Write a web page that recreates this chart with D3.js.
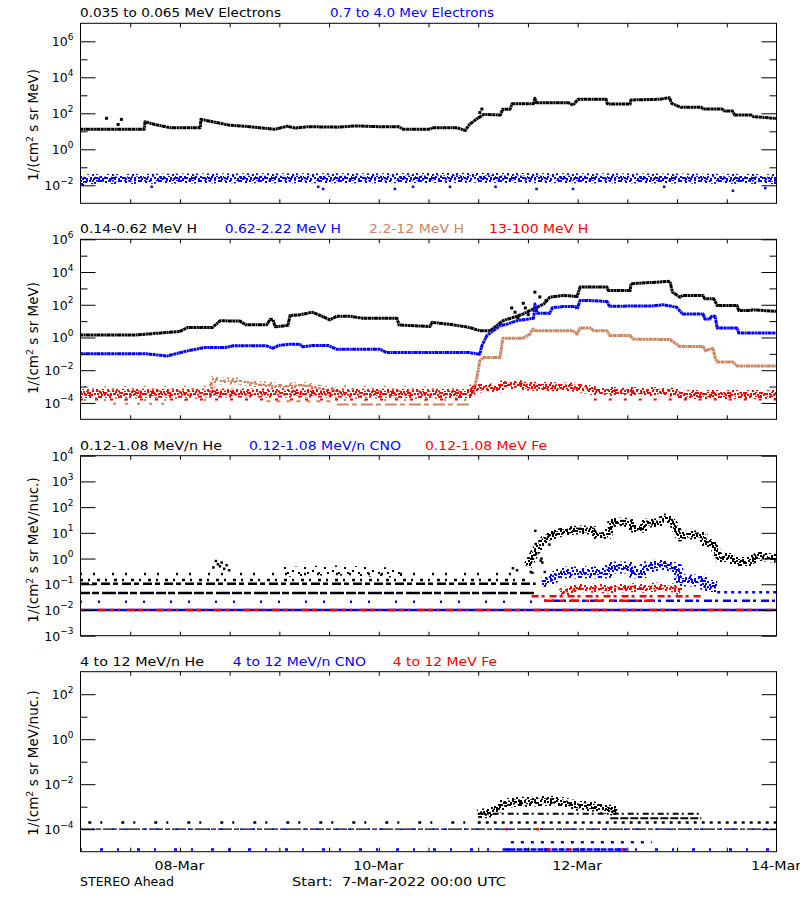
<!DOCTYPE html>
<html><head><meta charset="utf-8">
<script src="https://cdn.jsdelivr.net/npm/d3@7"></script>
<style>body{margin:0;background:#fff}svg{display:block}text{font-family:"DejaVu Sans",sans-serif}</style>
</head><body><svg id="c" width="800" height="900"></svg>
<script>
// ===== DATA (time in hours after 7-Mar-2022 00:00 UTC, values in flux units) =====
// Panel 1 : electrons
const e1T = [0,15.5,15.7,18,21.7,29,29.2,32,36,41,47,50,52,55,62,67,72,77,78,84.5,85,91,93,94,96,97.5,101.5,102,103.8,104.3,109.5,109.8,110.2,118,119,120.2,127,127.3,132.8,133,140,142.3,142.8,145,150,150.4,155,155.5,157.5,158,162,162.5,168];
const e1V = [13,13,34,24,16,16,46,34,22,18,13,19,15,18,17,20,18,18,13,13,16,16,11,24,53,87,80,166,166,340,340,680,390,380,280,600,600,330,330,550,600,740,360,215,215,172,172,134,134,80,80,65,52];
const e1oT = [6.4,10,9.2,97,96.5];
const e1oV = [53,46,24,172,110];
const e2T = [0,1,24,48,72,96,120,144,168];
const e2V = [0.012,0.022,0.024,0.025,0.025,0.026,0.025,0.024,0.022];
const e2oT = [17.3,57.5,58.7,76,80.4,89.3,100.3,110.2,119,141,157.6,165.4];
const e2oV = [0.0083,0.0083,0.0063,0.0063,0.0083,0.0083,0.0083,0.0063,0.0063,0.0083,0.005,0.007];
// Panel 2 : protons
const h1T = [0,12.8,24,26,32,33.8,38.6,40,45.1,45.9,46.6,47.1,50.2,50.7,53,56,58,60.3,62,65,68.3,76.5,77,84.5,85,90,94,96.5,99,102.1,105.5,106.9,108.6,110.3,112,113.4,116.6,120,120.7,127.2,127.5,132.8,133,142.4,143,144.8,145.5,150.4,150.8,153,153.8,158.6,159,161.7,162.4,168];
const h1V = [1.4,1.4,2.3,4.1,4.1,10.5,10,6,6,13,12,4.5,5.5,22,24,35,22,12,20,20,15,15,5.8,4.7,8.4,6,4.1,2.6,2.6,10.6,20,27,44,70,114,290,370,320,1200,1200,745,745,1950,2700,590,290,370,370,230,230,89,89,44,44,49,40];
const h1oT = [104.2,105,107,107.5,109.8,108.2,105.7,111,112.5];
const h1oV = [64,35,124,64,590,25,16,300,180];
const h2T = [0,16,21,25.8,30,35,37,45,46.6,48,50.7,53,53.8,56,60,62,72.4,74,94,96.5,97,98.2,99.7,101.4,103.1,105.5,109.5,109.8,110.4,113.4,114,116.6,119.5,120,120.7,123,127.2,127.8,138,140.7,142.4,144,145.5,150.4,150.8,152,152.5,153.3,153.8,158.6,159,168];
const h2V = [0.1,0.1,0.074,0.15,0.24,0.24,0.31,0.31,0.22,0.33,0.39,0.39,0.27,0.32,0.32,0.19,0.19,0.12,0.12,0.095,0.31,1.3,2.6,5.2,6.6,10.7,15,110,30,30,65,78,78,56,180,180,158,81,85,100,85,70,27,27,13.5,13.5,20,20,3.8,3.8,1.9,1.9];
const h3bgT = [0,31.5,null,60,94.5];
const h3bgV = [3.5e-4,3.8e-4,null,4e-4,3.2e-4];
const h3rowAT = [8,21]; const h3rowAV = [9e-5,9e-5];
const h3rowBT = [45,62]; const h3rowBV = [1.25e-4,1.25e-4];
const h3rowCT = [62,94.5]; const h3rowCV = [8e-5,8e-5];
const h3aT = [31.4,32.1,34,38.6,43.4,49,53.1,55,60,62];
const h3aV = [4e-4,2.8e-3,2.2e-3,2.2e-3,1.35e-3,9.7e-4,1.2e-3,1.1e-3,6e-4,5.2e-4];
const h3T = [94.9,95.8,96.5,97.3,101.4,101.9,102.1,106.9,108.6,109.3,110,119,120,120.7,123.1,124,127.2,127.9,132.8,133.5,142.4,144.8,150.4,151,152,152.8,153.3,153.8,157.6,158.6,168];
const h3V = [4e-4,3.5e-3,0.037,0.059,0.059,0.49,0.91,0.91,1.6,3.3,2.6,2.6,1.6,3.8,3.8,2.6,2.6,1.3,1.3,0.8,0.75,0.28,0.28,0.15,0.2,0.21,0.059,0.032,0.032,0.018,0.018];
const h4T = [0,30,60,94.3,94.9,101.4,102.1,106.2,107,120,124.8,142.4,145,168];
const h4V = [3.8e-4,4e-4,4e-4,3.8e-4,8.3e-4,8.3e-4,1.35e-3,1.35e-3,1.07e-3,9e-4,5.2e-4,4.8e-4,3.3e-4,3.3e-4];
const h4rowT = [0,94,null,124,168];
const h4rowV = [1.6e-4,1.6e-4,null,1.6e-4,1.6e-4];
// Panel 3 : 0.12-1.08 MeV/n heavy ions
const heL1T = [0,110]; const heL1V = [0.046,0.046];
const heL2T = [0,110]; const heL2V = [0.104,0.104];
const heL3T = [0,108]; const heL3V = [0.148,0.148];
const heL4T = [0,108]; const heL4V = [0.25,0.25];
const heBumpT = [49,54,60,66,72,78]; const heBumpV = [0.3,0.32,0.35,0.33,0.3,0.28];
const heT = [108,110,112.7,116.6,120,123.8,124.5,127.4,128.4,132.8,133.5,135.9,136.4,140,141,142.4,143.5,144.8,146.5,150.4,151,153,154,156.9,158,162.4,163,168];
const heV = [0.5,2,7,11,13,13,8.2,8.2,26,26,15,15,24,24,38,30,20,7,8.2,8.2,3.8,3.8,1.1,1.1,0.76,0.76,1.3,1.0];
const heoT = [104.5,105.5,109.9,110,110.1,111.2,111.4,111.6,112.2,113.2,113.3,108.8,109.2,32.2,32.8,33.3,33.8,34.2,34.8,35.4,36];
const heoV = [0.42,0.35,12,3.7,1.5,0.83,1.0,0.7,0.3,7.9,3.5,0.3,0.28,0.45,0.8,0.6,0.5,0.7,0.4,0.55,0.35];
const cnoL0T = [0,168]; const cnoL0V = [0.01,0.01];
const cnoL1T = [0,110]; const cnoL1V = [0.021,0.021];
const cnoT = [111.5,112.7,116.6,127.4,128,132.8,133.5,135.9,136.4,140.7,143,144.1,144.8,150.4,151,153.8];
const cnoV = [0.1,0.13,0.29,0.29,0.45,0.45,0.29,0.29,0.45,0.6,0.45,0.4,0.14,0.14,0.085,0.085];
const cnoL2T = [153.8,168]; const cnoL2V = [0.049,0.049];
const cnoL3T = [112,168]; const cnoL3V = [0.023,0.023];
const feL0T = [0,168]; const feL0V = [0.01,0.01];
const feT = [116,118,120,124,128,132,136,140,144,145];
const feV = [0.045,0.06,0.075,0.07,0.065,0.075,0.07,0.08,0.07,0.05];
const feL1T = [109,150]; const feL1V = [0.034,0.034];
const feL2T = [112,140]; const feL2V = [0.023,0.023];
// Panel 4 : 4-12 MeV/n heavy ions
const he4L0T = [0,168]; const he4L0V = [1e-4,1e-4];
const he4L1T = [2,96]; const he4L1V = [2e-4,2e-4];
const he4L1bT = [96,168]; const he4L1bV = [2e-4,2e-4];
const he4T = [96,100,102,104.5,110,113,116.6,120,124.8,127,129.6];
const he4V = [4.5e-4,6e-4,1.26e-3,1.6e-3,1.7e-3,1.9e-3,1.6e-3,1.1e-3,1.0e-3,8e-4,6e-4];
const he4L2T = [96,150]; const he4L2V = [4.9e-4,4.9e-4];
const he4L3T = [128,150]; const he4L3V = [3.1e-4,3.1e-4];
const cno4L0T = [0,168]; const cno4L0V = [1e-4,1e-4];
const cno4L1T = [0,168]; const cno4L1V = [1.26e-5,1.26e-5];
const cno4L1bT = [102,132]; const cno4L1bV = [1.26e-5,1.26e-5];
const cno4L2T = [104,138]; const cno4L2V = [2.6e-5,2.6e-5];
const fe4oT = [103,110.5,118.2,131,113]; const fe4oV = [1e-4,1e-4,1.26e-5,1.26e-5,1.26e-5];
// Text
const legends = [
  ["0.035 to 0.065 MeV Electrons","0.7 to 4.0 Mev Electrons"],
  ["0.14-0.62 MeV H","0.62-2.22 MeV H","2.2-12 MeV H","13-100 MeV H"],
  ["0.12-1.08 MeV/n He","0.12-1.08 MeV/n CNO","0.12-1.08 MeV Fe"],
  ["4 to 12 MeV/n He","4 to 12 MeV/n CNO","4 to 12 MeV Fe"]
];
const yTitles = ["MeV)","MeV)","MeV/nuc.)","MeV/nuc.)"];
const xTickHours = [24,72,120,168];
const xTickLabels = ["08-Mar","10-Mar","12-Mar","14-Mar"];
const footLeft = "STEREO Ahead";
const footMid = "Start:  7-Mar-2022 00:00 UTC";

// ===== STYLE / LAYOUT =====
const BLACK="#000000", BLUE="#0000ff", TAN="#cd8562", RED="#ff0000";
const X0=80, X1=776, PH=180;
const svg = d3.select("#c");
const t0 = Date.UTC(2022,2,7);
const hr = h => new Date(t0 + h*3600e3);
const x = d3.scaleUtc().domain([hr(0),hr(168)]).range([X0,X1]);

const defs = svg.append("defs");
function pat(id,color,w,h,dots){
  const p = defs.append("pattern").attr("id",id).attr("patternUnits","userSpaceOnUse").attr("width",w).attr("height",h);
  dots.forEach(([a,b])=>p.append("rect").attr("x",a).attr("y",b).attr("width",2).attr("height",2).attr("fill",color));
}
// irregular dot tiles that imitate dense per-minute scatter
const dense = [[0,0],[3,1],[6,0],[9,2],[12,0],[14,3],[1,3],[5,4],[8,5],[11,4],[0,7],[3,6],[6,8],[10,7],[13,8],[2,8],[15,6],[7,2]];
const medium = [[0,0],[5,1],[9,0],[14,2],[2,4],[7,5],[12,6],[16,5],[0,8],[4,9],[10,10],[14,9],[11,3],[18,0]];
const sparse = [[0,0],[9,2],[15,5],[4,7],[12,10],[18,12],[7,12]];
[["k",BLACK],["b",BLUE],["t",TAN],["r",RED]].forEach(([k,c])=>{
  pat("d"+k,c,16,10,dense); pat("m"+k,c,20,12,medium); pat("s"+k,c,20,14,sparse);
});

const panels = [
  {top:23.3, dom:[1e-3,1e7], major:[1e-2,1,1e2,1e4,1e6], minor:[1e-1,10,1e3,1e5], lab:[-2,0,2,4,6], ytY:125,
   legX:[80,330], legW:[201,164], legC:[BLACK,BLUE]},
  {top:239.3, dom:[1e-5,1e6], major:[1e-4,1e-2,1,1e2,1e4,1e6], minor:[1e-3,1e-1,10,1e3,1e5], lab:[-4,-2,0,2,4,6], ytY:338,
   legX:[80,224.7,369,489], legW:[117,116.3,95,99.3], legC:[BLACK,BLUE,TAN,RED]},
  {top:455.7, dom:[1e-3,1e4], major:[1e-3,1e-2,1e-1,1,10,100,1e3,1e4], minor:[], lab:[-3,-2,-1,0,1,2,3,4], ytY:550,
   legX:[80,249,425], legW:[142,152,122], legC:[BLACK,BLUE,RED]},
  {top:671.7, dom:[1e-5,1e3], major:[1e-4,1e-2,1,1e2], minor:[1e-3,1e-1,10], lab:[-4,-2,0,2], ytY:763,
   legX:[80,232.7,392.7], legW:[124,133.3,104.3], legC:[BLACK,BLUE,RED]}
];

const TEX = "3 0.5 2 0.4 4 0.5";   // dotted texture of a dense point trail
const L = (T,V,paint,w,dash)=>({kind:"line",T,V,paint,w,dash});
const P = (T,V,paint,s)=>({kind:"pts",T,V,paint,s});
const seriesByPanel = [
  [ L(e1T,e1V,BLACK,3,TEX), P(e1oT,e1oV,BLACK,3), L(e2T,e2V,"url(#mb)",10), L(e2T,e2V,"url(#db)",5), P(e2oT,e2oV,BLUE,2.5) ],
  [ L(h1T,h1V,BLACK,3,TEX), P(h1oT,h1oV,BLACK,3), L(h2T,h2V,BLUE,3,TEX),
    L(h3bgT,h3bgV,"url(#st)",16), L(h3bgT,h3bgV,"url(#mt)",8), L(h3rowAT,h3rowAV,TAN,2,"3 9"), L(h3rowBT,h3rowBV,TAN,2,"4 6"), L(h3rowCT,h3rowCV,TAN,2,"12 3 5 4"),
    L(h3aT,h3aV,"url(#mt)",7), L(h3aT,h3aV,TAN,2.2,"3 2 2 1"), L(h3T,h3V,TAN,3,TEX),
    L(h4T,h4V,"url(#mr)",9), L(h4T,h4V,"url(#dr)",5), L(h4rowT,h4rowV,RED,2,"3 12") ],
  [ L(heL1T,heL1V,BLACK,2.5,"10 2 7 3 14 2"), L(heL2T,heL2V,BLACK,2.5,"9 3 5 4"), L(heL3T,heL3V,BLACK,2.5,"3 5 2 7"),
    L(heL4T,heL4V,BLACK,2.5,"2 11 2 17"), L(heBumpT,heBumpV,"url(#sk)",10), L(heT,heV,"url(#mk)",9), L(heT,heV,"url(#dk)",5), P(heoT,heoV,BLACK,2.5),
    L(cnoL0T,cnoL0V,BLUE,2.5), L(cnoL1T,cnoL1V,BLUE,2.5,"2 16 2 25"), L(cnoT,cnoV,"url(#mb)",12), L(cnoT,cnoV,"url(#db)",5),
    L(cnoL2T,cnoL2V,BLUE,2.5,"3 4"), L(cnoL3T,cnoL3V,BLUE,2.5,"3 5 8 3"),
    L(feL0T,feL0V,RED,2.5,"5 4 2 7 8 3"), L(feT,feV,"url(#mr)",9), L(feT,feV,"url(#dr)",4), L(feL1T,feL1V,RED,2.5,"7 3 3 5"), L(feL2T,feL2V,RED,2.5,"10 6 4 5") ],
  [ L(he4L0T,he4L0V,BLACK,1.3,"14 2 5 2"), L(he4L1T,he4L1V,BLACK,2.5,"3 9 2 19"), L(he4L1bT,he4L1bV,BLACK,2.5,"3 5"),
    L(he4T,he4V,"url(#mk)",10), L(he4T,he4V,"url(#dk)",5), L(he4L2T,he4L2V,BLACK,2,"6 3 2 4"), L(he4L3T,he4L3V,BLACK,2,"8 2"),
    L(cno4L0T,cno4L0V,BLUE,1.5,"2 10 3 17"), L(cno4L1T,cno4L1V,BLUE,2.5,"2 18 3 14"), L(cno4L1bT,cno4L1bV,BLUE,2.5,"6 1"),
    L(cno4L2T,cno4L2V,BLUE,2.5,"3 7"), P(fe4oT,fe4oV,RED,2.5) ]
];

panels.forEach((p,i)=>{
  const top=p.top, bot=top+PH;
  const y = d3.scaleLog().domain(p.dom).range([bot,top]);
  const g = svg.append("g");
  defs.append("clipPath").attr("id","clip"+i).append("rect").attr("x",X0).attr("y",top).attr("width",X1-X0).attr("height",PH);
  const dg = g.append("g").attr("clip-path",`url(#clip${i})`);
  seriesByPanel[i].forEach(s=>{
    const data = s.T.map((t,j)=>({t:t==null?null:hr(t), v:s.V[j]}));
    if(s.kind==="line"){
      const line = d3.line().defined(d=>d.v!=null&&d.t!=null).x(d=>x(d.t)).y(d=>y(d.v));
      dg.append("path").datum(data).attr("d",line).attr("fill","none").attr("stroke",s.paint)
        .attr("stroke-width",s.w).attr("stroke-dasharray",s.dash||null).attr("stroke-linejoin","round");
    } else {
      dg.selectAll(null).data(data).join("rect").attr("x",d=>x(d.t)-s.s/2).attr("y",d=>y(d.v)-s.s/2)
        .attr("width",s.s).attr("height",s.s).attr("fill",s.paint);
    }
  });
  // frame
  g.append("rect").attr("x",X0+0.5).attr("y",top).attr("width",X1-X0).attr("height",PH).attr("fill","none").attr("stroke","#000").attr("stroke-width",1);
  // y ticks (inward)
  const yAx = (gen,xx,len,vals)=>{
    const a = g.append("g").attr("transform",`translate(${xx},0)`).call(gen(y).tickValues(vals).tickSize(len).tickFormat(""));
    a.select(".domain").remove(); a.selectAll("line").attr("stroke","#000");
  };
  yAx(d3.axisLeft,X0+0.5,-15,p.major); yAx(d3.axisRight,X1+0.5,-15,p.major);
  if(p.minor.length){ yAx(d3.axisLeft,X0+0.5,-7,p.minor); yAx(d3.axisRight,X1+0.5,-7,p.minor); }
  // x ticks every 12 h, inward top & bottom
  const tv = d3.range(12,168,12).map(hr);
  [[d3.axisBottom,bot],[d3.axisTop,top]].forEach(([gen,yy])=>{
    const a = g.append("g").attr("transform",`translate(0.5,${yy})`).call(gen(x).tickValues(tv).tickSize(-4).tickFormat(""));
    a.select(".domain").remove(); a.selectAll("line").attr("stroke","#000");
  });
  // y tick labels
  p.lab.forEach(e=>{
    const t = g.append("text").attr("x",73.5).attr("y",y(Math.pow(10,e))+5).attr("text-anchor","end").attr("font-size",12.5).attr("fill","#000");
    t.append("tspan").text("10");
    t.append("tspan").attr("dy",-6.5).attr("font-size",9).text(e<0?"\u2212"+(-e):String(e));
  });
  // y title
  const yt = g.append("text").attr("transform",`translate(38,${p.ytY}) rotate(-90)`).attr("text-anchor","middle").attr("font-size",13.5).attr("fill","#000");
  yt.append("tspan").text("1/(cm");
  yt.append("tspan").attr("dy",-5).attr("font-size",9.5).text("2");
  yt.append("tspan").attr("dy",5).text(" s sr "+yTitles[i]);
  // legend
  legends[i].forEach((s,j)=>{
    g.append("text").attr("x",p.legX[j]).attr("y",top-6).attr("font-size",13).attr("fill",p.legC[j])
      .attr("textLength",p.legW[j]).attr("lengthAdjust","spacingAndGlyphs").text(s);
  });
});

// bottom labels
xTickHours.forEach((h,k)=>{
  svg.append("text").attr("x",x(hr(h))).attr("y",870).attr("text-anchor","middle").attr("font-size",13)
    .attr("textLength",50).attr("lengthAdjust","spacingAndGlyphs").text(xTickLabels[k]);
});
svg.append("text").attr("x",80).attr("y",886).attr("font-size",13).attr("textLength",94).attr("lengthAdjust","spacingAndGlyphs").text(footLeft);
svg.append("text").attr("x",292).attr("y",886).attr("font-size",13).attr("xml:space","preserve").style("white-space","pre")
  .attr("textLength",214).attr("lengthAdjust","spacingAndGlyphs").text(footMid);
</script></body></html>
